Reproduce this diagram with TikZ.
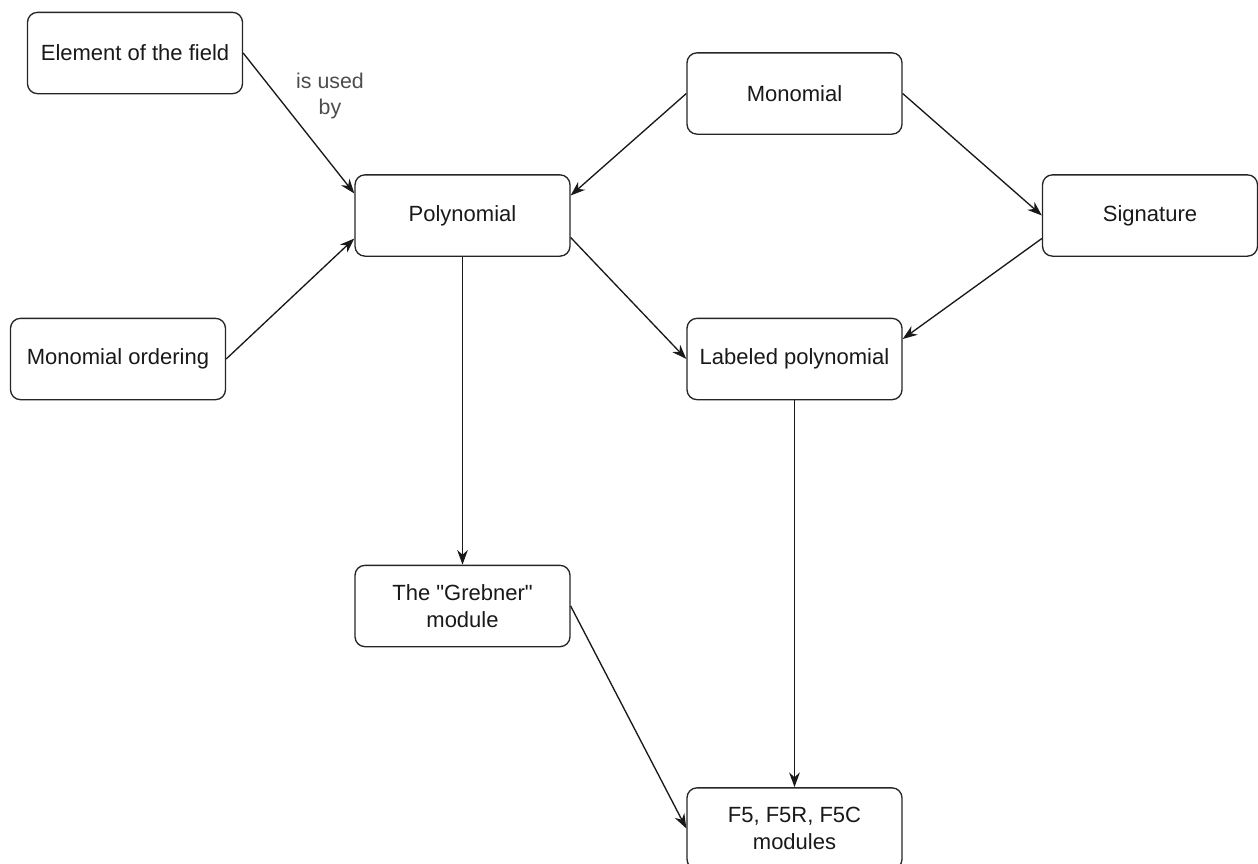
\documentclass[tikz,border=0pt]{standalone}
\usepackage{fontspec}
\setmainfont{Liberation Sans}
\newfontfamily\plainfont{Liberation Sans}
\usetikzlibrary{arrows.meta,calc}
\begin{document}
\begin{tikzpicture}[x=0.75pt,y=-0.75pt,
  box/.style={draw=black!85, line width=1pt, rounded corners=7.5pt, fill=white,
    minimum width=161.25pt, minimum height=61pt, align=center,
    font=\plainfont\fontsize{16.5}{20}\selectfont, text=black!90, inner sep=2pt},
  conn/.style={draw=black!90, line width=1pt, -{Stealth[length=11pt,width=8pt]}},
  lbl/.style={font=\plainfont\fontsize{16}{20}\selectfont, text=black!70, align=center}]
\useasboundingbox (0,0) rectangle (1258,864);
\node[box] (elem) at (135,53) {Element of the field};
\node[box] (mono) at (794.5,93.5) {Monomial};
\node[box] (poly) at (462.5,215.5) {Polynomial};
\node[box] (sig) at (1150,215.5) {Signature};
\node[box] (mord) at (118,359) {Monomial ordering};
\node[box] (lab) at (794.5,359) {Labeled polynomial};
\node[box] (greb) at (462.5,606) {The "Grebner"\\module};
\node[box] (f5) at (794.5,828.5) {F5, F5R, F5C\\modules};
\draw[conn] (elem.east) -- ($(poly.west)+(0,-22)$);
\node[lbl] (used) at (330,96) {is used\\by};
\draw[conn] (mord.east) -- ($(poly.west)+(0,23)$);
\draw[conn] (mono.west) -- ($(poly.east)+(0,-20)$);
\draw[conn] (mono.east) -- (sig.west);
\draw[conn] ($(sig.west)+(0,23)$) -- ($(lab.east)+(0,-20)$);
\draw[conn] ($(poly.east)+(0,22)$) -- (lab.west);
\draw[conn] (poly.south) -- (greb.north);
\draw[conn] (greb.east) -- (f5.west);
\draw[conn] (lab.south) -- (f5.north);
\end{tikzpicture}
\end{document}
